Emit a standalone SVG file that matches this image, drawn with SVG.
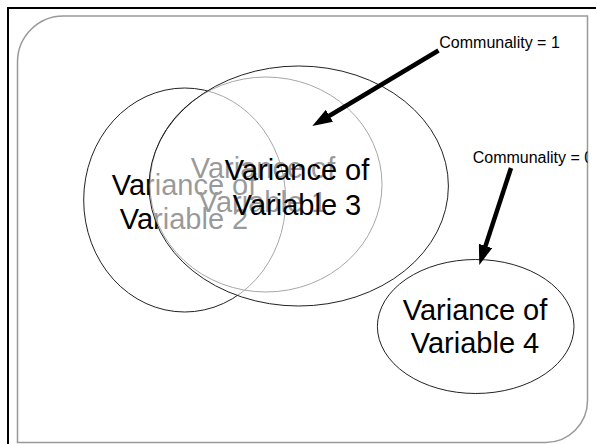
<svg xmlns="http://www.w3.org/2000/svg" width="596" height="444" viewBox="0 0 596 444">
<style>
.big{font-family:"Liberation Sans",Arial,sans-serif;font-size:29px;fill:#000;text-anchor:middle}
.small{font-family:"Liberation Sans",Arial,sans-serif;font-size:16px;fill:#000}
.ell{stroke:#222;stroke-width:1}
.arrow{stroke:#000;stroke-width:4.5;fill:none}
</style>
<defs>
<marker id="head" markerUnits="userSpaceOnUse" markerWidth="20" markerHeight="14" viewBox="0 0 20 14" refX="1" refY="7" orient="auto">
<path d="M0,0 L20,7 L0,14 Z" fill="#000"/>
</marker>
<clipPath id="clipR"><rect x="0" y="0" width="587.5" height="444"/></clipPath>
</defs>
<rect x="0" y="0" width="596" height="444" fill="#fff"/>
<rect x="8" y="8" width="600" height="450" fill="none" stroke="#000" stroke-width="2"/>
<path d="M17.5,62 A46,46 0 0 1 63.5,16 L587.5,16 L587.5,400.5 A42,42 0 0 1 545.5,442.5 L17.5,442.5 Z" fill="#fff" stroke="#999" stroke-width="1.5"/>
<g id="var2">
<ellipse class="ell" cx="184.7" cy="200" rx="101" ry="112" fill="none"/>
<text class="big" x="184" y="195">Variance of</text>
<text class="big" x="184" y="229">Variable 2</text>
</g>
<g id="var1">
<ellipse class="ell" cx="266" cy="184.5" rx="116" ry="107.5" fill="none"/>
<text class="big" x="263" y="178">Variance of</text>
<text class="big" x="263" y="212">Variable 1</text>
</g>
<g id="var3">
<ellipse class="ell" cx="298.7" cy="186" rx="149.7" ry="120" fill="#fff" fill-opacity="0.6"/>
<text class="big" x="297" y="180">Variance of</text>
<text class="big" x="297" y="214.5">Variable 3</text>
</g>
<g id="var4">
<ellipse class="ell" cx="475.7" cy="326.5" rx="98.3" ry="67" fill="#fff"/>
<text class="big" x="475" y="320">Variance of</text>
<text class="big" x="475" y="353.3">Variable 4</text>
</g>
<g id="label1">
<text class="small" x="439.3" y="48.3">Communality = 1</text>
</g>
<g id="label0">
<text class="small" x="472.7" y="162.7" clip-path="url(#clipR)">Communality = 0</text>
</g>
<g id="connectors">
<line class="arrow" x1="438.5" y1="50.5" x2="328.6" y2="116.3" marker-end="url(#head)"/>
<line class="arrow" x1="511" y1="168" x2="485.2" y2="246.9" marker-end="url(#head)"/>
</g>
</svg>
